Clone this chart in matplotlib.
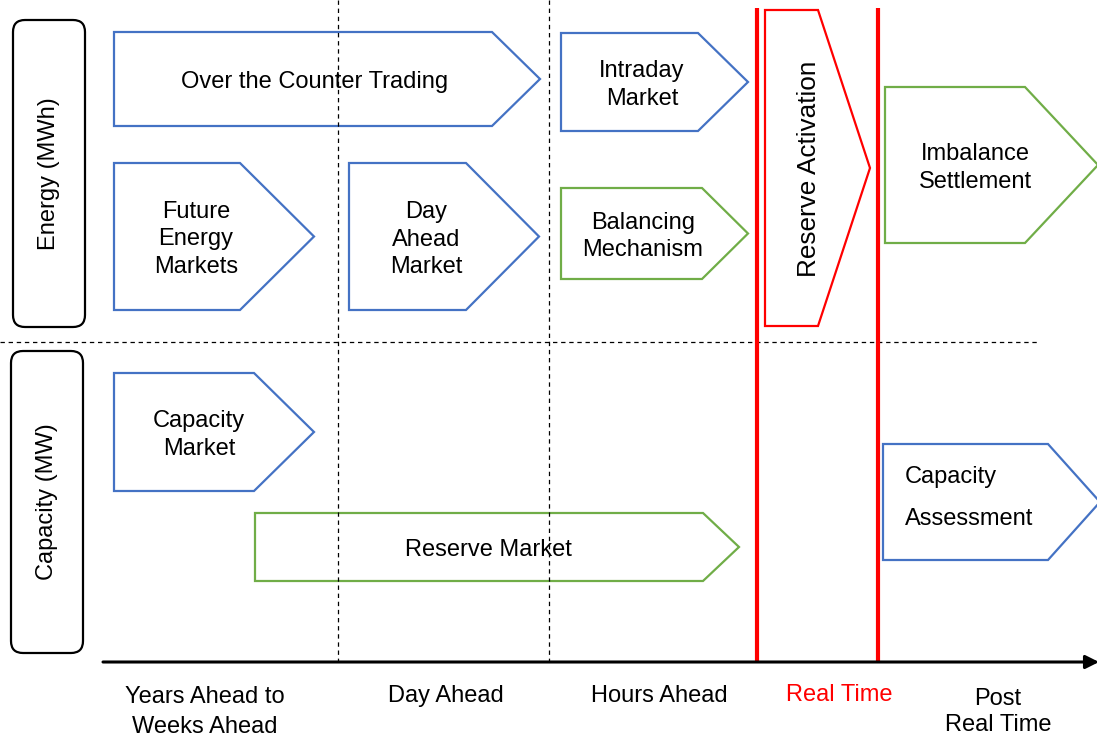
import matplotlib.pyplot as plt
from matplotlib.patches import Polygon, FancyBboxPatch

plt.rcParams["font.family"] = ["Liberation Sans", "DejaVu Sans"]

BLUE = "#4472C4"
GREEN = "#70AD47"
RED = "#FF0000"

# market blocks: label, colour
labels = [
    "Over the Counter Trading",
    "Future\nEnergy\nMarkets",
    "Day\nAhead\nMarket",
    "Intraday\nMarket",
    "Balancing\nMechanism",
    "Imbalance\nSettlement",
    "Capacity\nMarket",
    "Reserve Market",
    "Capacity\n\nAssessment",
]
colors = [BLUE, BLUE, BLUE, BLUE, GREEN, GREEN, BLUE, GREEN, BLUE]
# pentagon geometry in pixels: left, body end, tip, top, bottom
lefts = [114, 114, 349, 561, 561, 885, 114, 255, 883]
body_ends = [492, 240, 466, 698, 702, 1025, 254, 703, 1048]
tips = [540, 314, 539, 748, 748, 1098, 314, 739, 1100]
tops = [32, 163, 163, 33, 188, 87, 373, 513, 444]
bottoms = [126, 310, 310, 131, 279, 243, 491, 581, 560]
text_x = [315, 196, 426, 642, 643, 975, 199, 488, 905]

# timeline categories along the bottom
periods = ["Years Ahead to\nWeeks Ahead", "Day Ahead", "Hours Ahead", "Real Time", "Post\nReal Time"]
period_x = [205, 446, 659, 839, 998]
period_y = [712, 696, 696, 695, 712]
period_colors = ["black", "black", "black", RED, "black"]
period_spacing = [1.45, 1.0, 1.0, 1.0, 1.27]

fig = plt.figure(figsize=(10.97, 7.36), dpi=100)
ax = fig.add_axes([0, 0, 1, 1])
ax.set_xlim(0, 1097)
ax.set_ylim(736, 0)
ax.axis("off")

# grid separators
for x in (338, 549):
    ax.plot([x, x], [0, 661], color="black", lw=0.9, ls=(0, (3.5, 3)))
ax.plot([0, 1040], [342, 342], color="black", lw=0.9, ls=(0, (3.5, 3)))

# real time boundaries
for x in (757, 878):
    ax.plot([x, x], [8, 662], color=RED, lw=3, solid_capstyle="butt")

# row headers
for (x0, y0, x1, y1), name in zip([(13, 20, 85, 327), (11, 351, 83, 653)], ["Energy (MWh)", "Capacity (MW)"]):
    box = FancyBboxPatch((x0, y0), x1 - x0, y1 - y0, boxstyle="round,pad=0,rounding_size=12",
                         fc="white", ec="black", lw=1.6)
    ax.add_patch(box)
    ax.text((x0 + x1) / 2, (y0 + y1) / 2, name, rotation=90, ha="center", va="center", fontsize=17)

# market blocks
for i, label in enumerate(labels):
    mid = (tops[i] + bottoms[i]) / 2
    pts = [(lefts[i], tops[i]), (body_ends[i], tops[i]), (tips[i], mid),
           (body_ends[i], bottoms[i]), (lefts[i], bottoms[i])]
    ax.add_patch(Polygon(pts, closed=True, fc="white", ec=colors[i], lw=1.6, joinstyle="miter"))
    if label.startswith("Capacity\n\n"):
        ax.text(text_x[i], mid - 4, label.replace("\n\n", "\n"), ha="left", va="center",
                fontsize=17, linespacing=2.15)
    else:
        ax.text(text_x[i], mid + 3, label, ha="center", va="center", fontsize=17, linespacing=1.3)

# reserve activation (vertical text block)
ra = [(765, 10), (818, 10), (870, 168), (818, 326), (765, 326)]
ax.add_patch(Polygon(ra, closed=True, fc="white", ec=RED, lw=1.6, joinstyle="miter"))
ax.text(809, 169, "Reserve Activation", rotation=90, ha="center", va="center", fontsize=18.8)

# time axis
ax.annotate("", xy=(1099, 662), xytext=(103, 662), annotation_clip=False,
            arrowprops=dict(arrowstyle="-|>", lw=2.2, color="black", mutation_scale=20, shrinkA=0, shrinkB=0))

for x, y, text, c, ls in zip(period_x, period_y, periods, period_colors, period_spacing):
    ax.text(x, y, text, ha="center", va="center", fontsize=17, color=c, linespacing=ls)

fig.savefig("out.png", dpi=100)
